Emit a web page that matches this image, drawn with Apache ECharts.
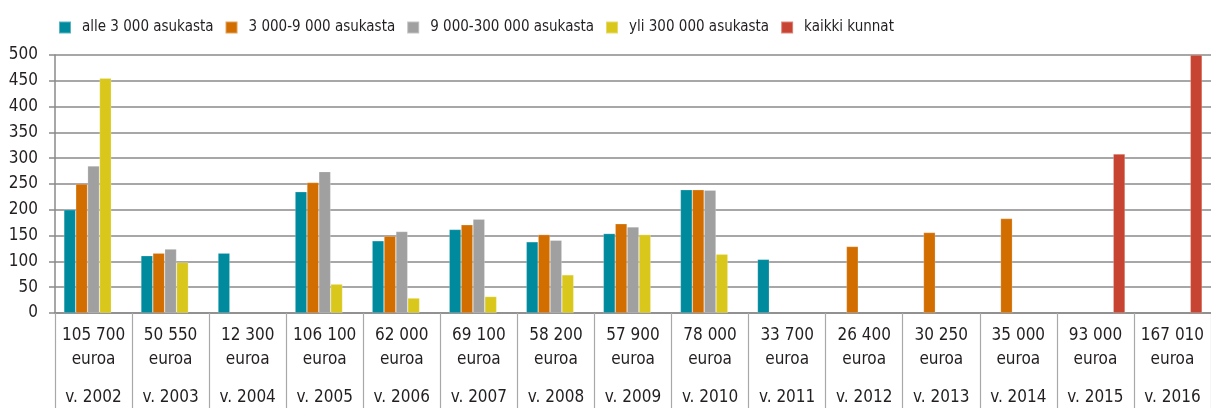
<!DOCTYPE html>
<html>
<head>
<meta charset="utf-8">
<script src="https://cdn.jsdelivr.net/npm/echarts@6/dist/echarts.min.js"></script>
<style>
html,body{margin:0;padding:0;background:#fff;}
#chart{width:1211px;height:408px;}
</style>
</head>
<body>
<div id="chart"></div>
<script>
const amounts = ['105 700','50 550','12 300','106 100','62 000','69 100','58 200','57 900','78 000','33 700','26 400','30 250','35 000','93 000','167 010'];
const years = ['v. 2002','v. 2003','v. 2004','v. 2005','v. 2006','v. 2007','v. 2008','v. 2009','v. 2010','v. 2011','v. 2012','v. 2013','v. 2014','v. 2015','v. 2016'];
const seriesNames = ['alle 3 000 asukasta','3 000-9 000 asukasta','9 000-300 000 asukasta','yli 300 000 asukasta','kaikki kunnat'];
const alle3000   = [200, 111, 116, 235, 140, 162, 138, 154, 239, 104, null, null, null, null, null];
const s3000_9000 = [250, 116, null, 253, 149, 171, 152, 173, 239, null, 129, 156, 183, null, null];
const s9000_300k = [285, 124, null, 274, 158, 182, 141, 167, 238, null, null, null, null, null, null];
const yli300k    = [455, 98, null, 56, 29, 32, 74, 152, 114, null, null, null, null, null, null];
const kaikki     = [null, null, null, null, null, null, null, null, null, null, null, null, null, 308, 500];
const yTicks = [0, 50, 100, 150, 200, 250, 300, 350, 400, 450, 500];

const colors = ['#008a9e','#d26e00','#a0a0a0','#d9c81b','#c84432'];
const FONT = "'Liberation Sans Narrow','DejaVu Sans Condensed',sans-serif";
const TXT = '#231f20';

const categories = amounts.map((a, i) => a + '|' + years[i]);
const data = [alle3000, s3000_9000, s9000_300k, yli300k, kaikki];

const chart = echarts.init(document.getElementById('chart'), null, {renderer: 'canvas'});
chart.setOption({
  animation: false,
  color: colors,
  textStyle: {fontFamily: FONT},
  legend: {
    left: 53, top: 15,
    itemWidth: 12, itemHeight: 12, itemGap: 11,
    icon: 'rect',
    textStyle: {fontFamily: FONT, fontSize: 15, color: TXT, padding: [0, 0, 0, 6]},
    data: seriesNames
  },
  grid: {left: 55, top: 55, width: 1158, bottom: 95, containLabel: false},
  xAxis: {
    type: 'category',
    data: categories,
    boundaryGap: true,
    axisLine: {show: true, lineStyle: {color: '#8a8a8a', width: 1.5}},
    axisTick: {show: true, interval: 0, length: 96, lineStyle: {color: '#a8a8a8', width: 1.2}},
    axisLabel: {
      interval: 0,
      margin: 11,
      fontFamily: FONT,
      color: TXT,
      formatter: function (v) {
        const p = v.split('|');
        return '{a|' + p[0] + '}\n{a|euroa}\n{b|' + p[1] + '}';
      },
      rich: {
        a: {fontFamily: FONT, fontSize: 17, lineHeight: 24, color: TXT},
        b: {fontFamily: FONT, fontSize: 17, lineHeight: 51, color: TXT}
      }
    }
  },
  yAxis: {
    type: 'value',
    min: 0, max: 500, interval: 50,
    axisLine: {show: true, lineStyle: {color: '#8a8a8a', width: 1.5}},
    axisTick: {show: true, length: 6, lineStyle: {color: '#8a8a8a', width: 1.5}},
    axisLabel: {
      fontFamily: FONT, fontSize: 17, color: TXT, margin: 17,
      formatter: v => yTicks.includes(v) ? String(v) : ''
    },
    splitLine: {show: true, lineStyle: {color: '#8a8a8a', width: 1.5}}
  },
  series: seriesNames.map((n, i) => ({
    name: n,
    type: 'bar',
    data: data[i],
    barGap: '0%',
    barCategoryGap: '23%',
    itemStyle: {color: colors[i], borderColor: 'rgba(255,255,255,0.35)', borderWidth: 0.6}
  }))
});
</script>
</body>
</html>
